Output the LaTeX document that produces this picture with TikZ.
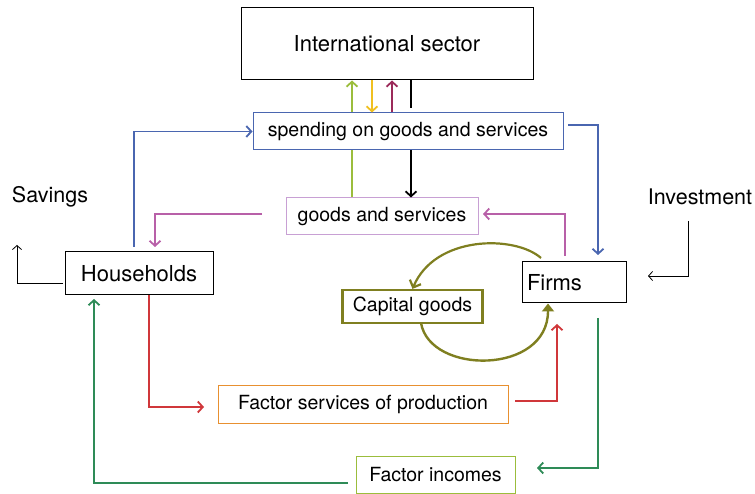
\documentclass[tikz,border=0pt]{standalone}
\usepackage{fontspec}
\setmainfont{TeX Gyre Heros}
\usetikzlibrary{arrows.meta}
\definecolor{cblue}{HTML}{4A66B0}
\definecolor{cpurple}{HTML}{B860A8}
\definecolor{clav}{HTML}{C8A0D4}
\definecolor{cdgreen}{HTML}{2E8B57}
\definecolor{clime}{HTML}{9BBD3C}
\definecolor{cyellow}{HTML}{F0C020}
\definecolor{cmaroon}{HTML}{9B2A5A}
\definecolor{cred}{HTML}{D0373A}
\definecolor{colive}{HTML}{7F7F20}
\definecolor{corange}{HTML}{E89030}
\tikzset{
  box/.style={draw, line width=1pt, rectangle, inner sep=0pt, font=\fontsize{19.5}{23}\selectfont},
  bigbox/.style={box, font=\fontsize{22}{26}\selectfont},
  flow/.style={line width=1.8pt, -{Straight Barb[length=5pt,width=11pt,line width=1.8pt]}},
  thin/.style={line width=0.8pt, -{Straight Barb[length=4pt,width=9pt,line width=0.8pt]}},
  lbl/.style={font=\fontsize{21.5}{25}\selectfont, inner sep=0pt}
}
\begin{document}
\begin{tikzpicture}[x=1pt,y=-1pt]
\useasboundingbox (0,0) rectangle (755,494);
% boxes
\node[bigbox, minimum width=292pt, minimum height=72pt] (intl) at (387,44) {International sector};
\node[box, draw=cblue, minimum width=310pt, minimum height=37pt] (spend) at (408,131.5) {spending on goods and services};
\node[box, draw=clav, minimum width=192pt, minimum height=37pt] (goods) at (382,216.5) {goods and services};
\node[bigbox, minimum width=148pt, minimum height=43pt] (hh) at (139,273.5) {Households};
\node[bigbox, minimum width=104pt, minimum height=41pt, text width=94pt, align=left] (firms) at (574,282.5) {Firms};
\node[box, draw=colive, line width=2.2pt, minimum width=140pt, minimum height=33pt] (cap) at (412.5,306.5) {Capital goods};
\node[box, draw=corange, minimum width=290pt, minimum height=38pt] (fsp) at (363,404) {Factor services of production};
\node[box, draw=clime, minimum width=159pt, minimum height=37pt] (finc) at (435.5,474.5) {Factor incomes};
\node[lbl] (sav) at (50,197) {Savings};
\node[lbl] (inv) at (700,197) {Investment};
% coordinates
\coordinate (savS) at (63,283);
\coordinate (savE) at (17,245);
\coordinate (invS) at (688,221);
\coordinate (invE) at (648,276);
% international links
\draw[flow, clime] (spend.north -| 352,0) -- (intl.south -| 352,0);
\draw[flow, cyellow] (intl.south -| 372,0) -- (spend.north -| 372,0);
\draw[flow, cmaroon] (spend.north -| 392,0) -- (intl.south -| 392,0);
\draw[line width=1.8pt, black] (intl.south -| 411,0) -- (411,108);
\draw[flow, black] (spend.south -| 411,0) -- (goods.north -| 411,0);
\draw[line width=1.8pt, clime] (spend.south -| 352,0) -- (goods.north -| 352,0);
% blue
\draw[flow, cblue] (134,247) |- (spend.west);
\draw[flow, cblue] (568,125) -| (598,255);
% purple
\draw[flow, cpurple] (262,214) -| (155,247);
\draw[flow, cpurple] (565,256) |- (483,214);
% savings, investment
\draw[thin] (savS) -| (savE);
\draw[thin] (invS) |- (invE);
% olive
\draw[colive, line width=2.2pt, -{Straight Barb[length=6pt,width=12pt,line width=2.2pt]}] (541,258) .. controls (515,235) and (435,235) .. (cap.north);
\draw[colive, line width=2.4pt, -{Triangle[length=8pt,width=12pt]}] (421,323) .. controls (430,375) and (548,375) .. (firms.south -| 548,0);
% red
\draw[flow, cred] (hh.south -| 149,0) |- (204,407);
\draw[flow, cred] (515,401) -| (557,324);
% green
\draw[flow, cdgreen] (598,318) |- (537,468);
\draw[flow, cdgreen] (348,483) -| (94,299);
\end{tikzpicture}
\end{document}
